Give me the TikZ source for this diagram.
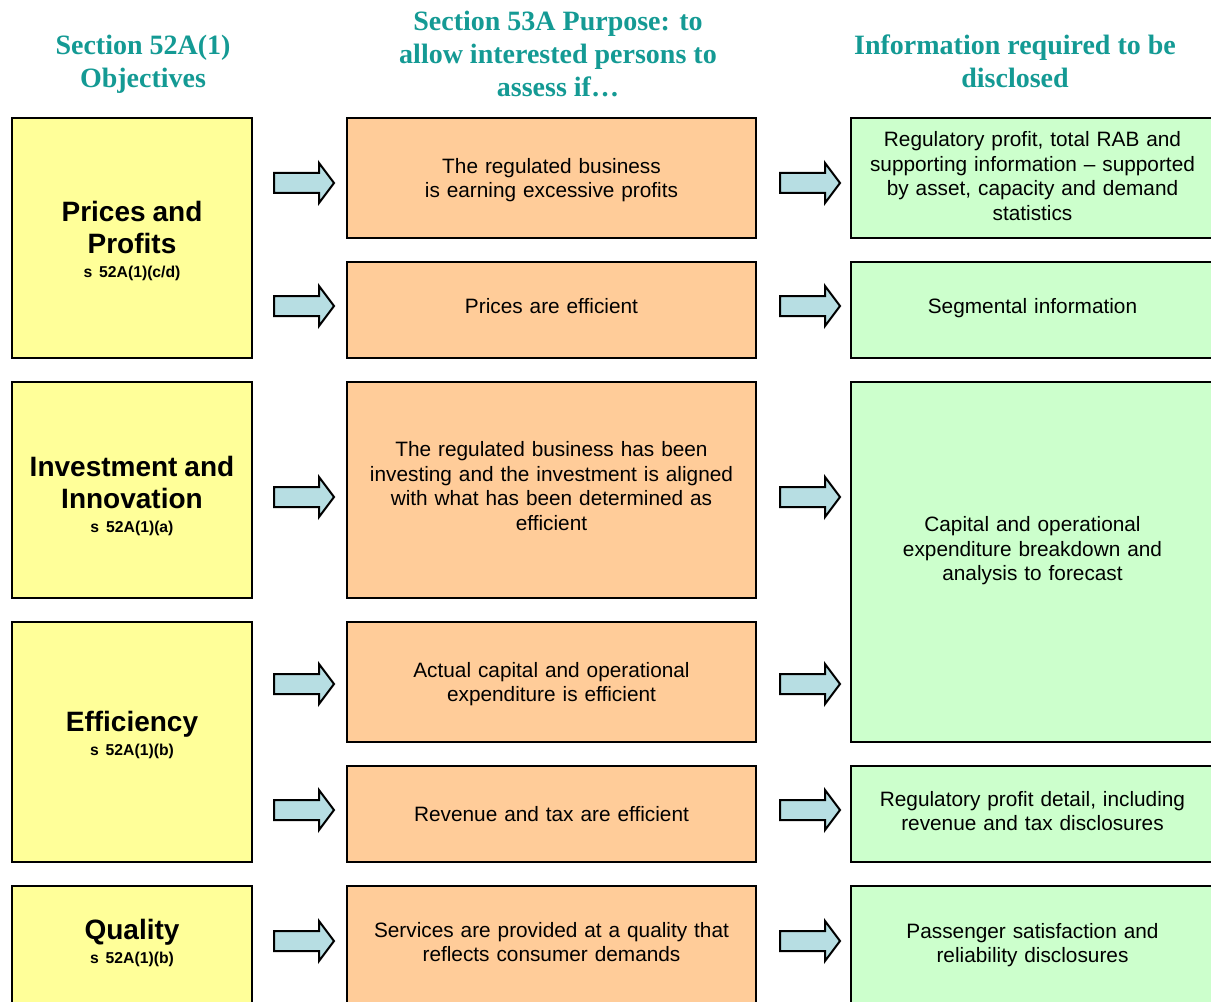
\documentclass[tikz,border=0pt]{standalone}
\usepackage{fontspec}
\setmainfont{Liberation Sans}
\newfontfamily\headserif{Liberation Serif}
\usetikzlibrary{calc}

\definecolor{objyellow}{HTML}{FFFF99}
\definecolor{purporange}{HTML}{FFCC99}
\definecolor{infogreen}{HTML}{CCFFCC}
\definecolor{arrowblue}{HTML}{B7DEE3}
\definecolor{headteal}{RGB}{20,154,148}

% fonts
\newcommand\bodyfont{\fontsize{15.6}{18.4}\selectfont}
\newcommand\titlefont{\fontsize{21}{24}\selectfont\bfseries}
\newcommand\subfont{\fontsize{11.8}{14.5}\selectfont\bfseries}

% block arrow, tail centre at #1, 60 px long
\newcommand\blockarrow[1]{%
  \draw[flowarrow] #1 ++(0,-10) -- ++(45,0) -- ++(0,-10) -- ++(15,20)
    -- ++(-15,20) -- ++(0,-10) -- ++(-45,0) -- cycle;}

\begin{document}
\begin{tikzpicture}[x=0.75pt,y=-0.75pt,
  px size/.style 2 args={minimum width=#1*0.75pt, minimum height=#2*0.75pt},
  box/.style={draw=black, line width=1.5pt, rectangle, inner sep=0pt},
  objbox/.style={box, fill=objyellow},
  purpbox/.style={box, fill=purporange},
  infobox/.style={box, fill=infogreen},
  boxtext/.style={align=center, inner sep=0pt, font=\bodyfont},
  objtext/.style={boxtext, text width=225*0.75pt},
  purptext/.style={boxtext, text width=400*0.75pt},
  infotext/.style={boxtext, text width=350*0.75pt},
  head/.style={align=center, text=headteal,
    font=\headserif\fontsize{21}{24.75}\selectfont\bfseries},
  flowarrow/.style={draw=black, line width=1.5pt, line join=miter, fill=arrowblue}]

\useasboundingbox (0,0) rectangle (1211,1002);

% column headings
\node[head] (h1) at (143,64.5) {Section 52A(1)\\Objectives};
\node[head] (h2) at (558,54) {Section 53A Purpose: to\\allow interested persons to\\assess if…};
\node[head] (h3) at (1015,61.5) {Information required to be\\disclosed};

% boxes: objectives, purposes, disclosures
\node[objbox, px size={240}{240}] (o1) at (132,238) {};
\node[objbox, px size={240}{216}] (o2) at (132,490) {};
\node[objbox, px size={240}{240}] (o3) at (132,742) {};
\node[objbox, px size={240}{118}] (o4) at (132,945) {};

\node[purpbox, px size={409}{120}] (m1) at (551.5,178) {};
\node[purpbox, px size={409}{96}]  (m2) at (551.5,310) {};
\node[purpbox, px size={409}{216}] (m3) at (551.5,490) {};
\node[purpbox, px size={409}{120}] (m4) at (551.5,682) {};
\node[purpbox, px size={409}{96}]  (m5) at (551.5,814) {};
\node[purpbox, px size={409}{118}] (m6) at (551.5,945) {};

\node[infobox, px size={363}{120}] (r1) at (1032.5,178) {};
\node[infobox, px size={363}{96}]  (r2) at (1032.5,310) {};
\node[infobox, px size={363}{360}] (r3) at (1032.5,562) {};
\node[infobox, px size={363}{96}]  (r4) at (1032.5,814) {};
\node[infobox, px size={363}{118}] (r5) at (1032.5,945) {};

% box texts
\node[objtext] (o1t) at ($(o1.center)+(0,3)$)
  {\titlefont Prices and\\Profits\\\subfont s 52A(1)(c/d)};
\node[objtext] (o2t) at ($(o2.center)+(0,6)$)
  {\titlefont Investment and\\Innovation\\\subfont s 52A(1)(a)};
\node[objtext] (o3t) at ($(o3.center)+(0,-7)$)
  {\titlefont Efficiency\\\subfont s 52A(1)(b)};
\node[objtext] (o4t) at ($(o4.center)+(0,-2)$)
  {\titlefont Quality\\\subfont s 52A(1)(b)};

\node[purptext] (m1t) at ($(m1.center)+(0,2)$)
  {The regulated business\\is earning excessive profits};
\node[purptext] (m2t) at ($(m2.center)+(0,-4)$)
  {Prices are efficient};
\node[purptext] (m3t) at ($(m3.center)+(0,-4)$)
  {The regulated business has been\\investing and the investment is aligned\\with what has been determined as\\efficient};
\node[purptext] (m4t) at ($(m4.center)+(0,2)$)
  {Actual capital and operational\\expenditure is efficient};
\node[purptext] (m5t) at (m5.center)
  {Revenue and tax are efficient};
\node[purptext] (m6t) at ($(m6.center)+(0,-3)$)
  {Services are provided at a quality that\\reflects consumer demands};

\node[infotext] (r1t) at ($(r1.center)+(0,-2)$)
  {Regulatory profit, total RAB and\\supporting information \textendash{} supported\\by asset, capacity and demand\\statistics};
\node[infotext] (r2t) at ($(r2.center)+(0,-2)$)
  {Segmental information};
\node[infotext] (r3t) at ($(r3.center)+(0,-11)$)
  {Capital and operational\\expenditure breakdown and\\analysis to forecast};
\node[infotext] (r4t) at ($(r4.center)+(0,-3)$)
  {Regulatory profit detail, including\\revenue and tax disclosures};
\node[infotext] (r5t) at (r5.center)
  {Passenger satisfaction and\\reliability disclosures};

% arrows from objectives to purposes
\blockarrow{($(m1.west |- 0,183)+(-72,0)$)}
\blockarrow{($(m2.west |- 0,306)+(-72,0)$)}
\blockarrow{($(m3.west |- 0,497)+(-72,0)$)}
\blockarrow{($(m4.west |- 0,684)+(-72,0)$)}
\blockarrow{($(m5.west |- 0,810)+(-72,0)$)}
\blockarrow{($(m6.west |- 0,941)+(-72,0)$)}

% arrows from purposes to disclosures
\blockarrow{($(m1.east |- 0,183)+(23,0)$)}
\blockarrow{($(m2.east |- 0,306)+(23,0)$)}
\blockarrow{($(m3.east |- 0,497)+(23,0)$)}
\blockarrow{($(m4.east |- 0,684)+(23,0)$)}
\blockarrow{($(m5.east |- 0,810)+(23,0)$)}
\blockarrow{($(m6.east |- 0,941)+(23,0)$)}

\end{tikzpicture}
\end{document}
